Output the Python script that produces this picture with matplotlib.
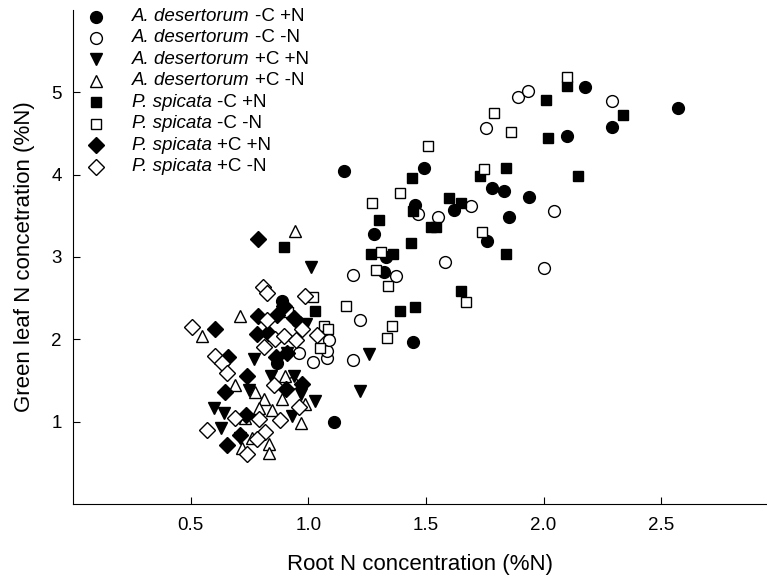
import matplotlib
matplotlib.use("Agg")
import matplotlib.pyplot as plt
from matplotlib.lines import Line2D
from matplotlib.offsetbox import AnchoredOffsetbox, VPacker, HPacker, TextArea, DrawingArea

plt.rcParams['font.family'] = ['Liberation Sans', 'DejaVu Sans']

# A. desertorum -C +N (filled circles)
ad_cN_x = [1.15, 1.49, 1.78, 1.83, 1.94, 1.455, 1.62, 1.855, 1.28, 1.76, 1.32, 1.33,
           1.445, 1.11, 2.175, 2.57, 2.29, 2.10, 0.89, 0.865]
ad_cN_y = [4.04, 4.08, 3.84, 3.80, 3.73, 3.63, 3.57, 3.49, 3.28, 3.19, 2.82, 3.00,
           1.97, 1.00, 5.06, 4.81, 4.58, 4.47, 2.46, 1.71]
# A. desertorum -C -N (open circles)
ad_c_x = [1.89, 1.935, 2.29, 1.755, 2.045, 1.69, 1.55, 1.465, 1.58, 2.00, 1.19, 1.375,
          1.22, 1.19, 0.96, 1.02, 1.08, 1.08, 1.09, 0.93]
ad_c_y = [4.94, 5.01, 4.89, 4.57, 3.56, 3.62, 3.48, 3.52, 2.94, 2.86, 2.78, 2.77,
          2.24, 1.75, 1.83, 1.73, 1.77, 1.86, 1.99, 1.47]
# A. desertorum +C +N (filled down triangles)
ad_CN_x = [1.01, 1.26, 1.22, 0.77, 0.94, 1.03, 0.93, 0.60, 0.64, 0.63, 0.71, 0.75,
           0.91, 0.99, 0.97, 0.84]
ad_CN_y = [2.88, 1.82, 1.37, 1.76, 1.56, 1.25, 1.07, 1.16, 1.10, 0.92, 0.80, 1.38,
           1.83, 2.19, 1.34, 1.55]
# A. desertorum +C -N (open up triangles)
ad_C_x = [0.945, 0.55, 0.71, 0.69, 0.775, 0.81, 0.89, 0.845, 0.79, 0.97, 0.835, 0.835,
          0.72, 0.76, 0.985, 0.73, 0.90]
ad_C_y = [3.32, 2.04, 2.28, 1.45, 1.36, 1.27, 1.27, 1.14, 1.16, 0.98, 0.73, 0.62,
          0.68, 0.80, 1.22, 1.04, 1.55]
# P. spicata -C +N (filled squares)
ps_cN_x = [2.01, 2.10, 2.34, 2.02, 1.84, 2.145, 1.44, 1.73, 1.60, 1.65, 1.445, 1.30,
           1.52, 1.545, 1.435, 1.265, 1.36, 1.84, 1.65, 1.39, 1.455, 0.897, 1.03]
ps_cN_y = [4.91, 5.08, 4.72, 4.44, 4.08, 3.98, 3.96, 3.98, 3.72, 3.65, 3.56, 3.45,
           3.36, 3.36, 3.17, 3.04, 3.03, 3.04, 2.59, 2.34, 2.39, 3.12, 2.34]
# P. spicata -C -N (open squares)
ps_c_x = [2.10, 1.79, 1.86, 1.51, 1.745, 1.39, 1.27, 1.31, 1.29, 1.34, 1.74, 1.67,
          1.16, 1.355, 1.335, 1.022, 0.915, 1.065, 1.086, 1.048]
ps_c_y = [5.18, 4.75, 4.52, 4.35, 4.07, 3.78, 3.66, 3.06, 2.84, 2.65, 3.30, 2.45,
          2.40, 2.16, 2.02, 2.51, 2.33, 2.16, 2.13, 1.89]
# P. spicata +C +N (filled diamonds)
ps_CN_x = [0.786, 0.605, 0.66, 0.785, 0.78, 0.83, 0.865, 0.94, 0.863, 0.91, 0.74, 0.648,
           0.905, 0.975, 0.735, 0.71, 0.655, 0.895, 0.966]
ps_CN_y = [3.22, 2.13, 1.79, 2.28, 2.07, 2.08, 2.29, 2.26, 1.78, 1.83, 1.56, 1.36,
           1.40, 1.46, 1.08, 0.84, 0.72, 2.41, 2.19]
# P. spicata +C -N (open diamonds)
ps_C_x = [0.505, 0.605, 0.632, 0.655, 0.569, 0.689, 0.739, 0.809, 0.826, 0.985, 0.824,
          0.81, 0.86, 0.897, 0.946, 0.972, 1.036, 0.856, 0.96, 0.88, 0.79, 0.817, 0.78]
ps_C_y = [2.15, 1.80, 1.71, 1.59, 0.90, 1.05, 0.61, 2.63, 2.56, 2.53, 2.24,
          1.91, 2.00, 2.04, 1.99, 2.13, 2.05, 1.44, 1.18, 1.02, 1.03, 0.88, 0.79]

series = [
    (ad_cN_x, ad_cN_y, 'o', True, 8.5, 'A. desertorum', '-C +N'),
    (ad_c_x, ad_c_y, 'o', False, 8.5, 'A. desertorum', '-C -N'),
    (ad_CN_x, ad_CN_y, 'v', True, 9, 'A. desertorum', '+C +N'),
    (ad_C_x, ad_C_y, '^', False, 9, 'A. desertorum', '+C -N'),
    (ps_cN_x, ps_cN_y, 's', True, 7.5, 'P. spicata', '-C +N'),
    (ps_c_x, ps_c_y, 's', False, 7.5, 'P. spicata', '-C -N'),
    (ps_CN_x, ps_CN_y, 'D', True, 8, 'P. spicata', '+C +N'),
    (ps_C_x, ps_C_y, 'D', False, 8, 'P. spicata', '+C -N'),
]

fig = plt.figure(figsize=(7.67, 5.83), dpi=100)
ax = fig.add_axes([0.0952, 0.1355, 0.9048, 0.8475])

rows = []
for x, y, m, filled, ms, species, treat in series:
    style = dict(linestyle='none', marker=m, markersize=ms,
                 markerfacecolor='black' if filled else 'white',
                 markeredgecolor='black', markeredgewidth=1.0)
    ax.plot(x, y, **style)
    # legend row: marker, italic species, roman treatment
    da = DrawingArea(10, 12, 0, 0)
    da.add_artist(Line2D([5], [6], **style))
    txt = HPacker(children=[TextArea(species, textprops=dict(size=13.5, style='italic')),
                            TextArea(treat, textprops=dict(size=13.5))],
                  pad=0, sep=3.7, align='baseline')
    rows.append(HPacker(children=[da, txt], pad=0, sep=21, align='center'))

leg = AnchoredOffsetbox(loc='upper left',
                        child=VPacker(children=rows, pad=0, sep=3.2, align='left'),
                        bbox_to_anchor=(89 / 767, 1 - 8 / 583),
                        bbox_transform=fig.transFigure, frameon=False,
                        pad=0, borderpad=0)
ax.add_artist(leg)

ax.set_xlim(0, 2.95)
ax.set_ylim(0, 6)
ax.set_xticks([0.5, 1.0, 1.5, 2.0, 2.5])
ax.set_xticklabels(['0.5', '1.0', '1.5', '2.0', '2.5'])
ax.set_yticks([1, 2, 3, 4, 5])
ax.tick_params(direction='in', length=5.3, width=0.8, labelsize=13.5)
ax.tick_params(axis='x', pad=9.5)
ax.tick_params(axis='y', pad=8)
for side in ['top', 'right']:
    ax.spines[side].set_visible(False)
for side in ['left', 'bottom']:
    ax.spines[side].set_linewidth(0.8)

ax.set_xlabel('Root N concentration (%N)', fontsize=16, labelpad=14)
ax.set_ylabel('Green leaf N concetration (%N)', fontsize=16, labelpad=12)

fig.savefig('out.png', dpi=100)
